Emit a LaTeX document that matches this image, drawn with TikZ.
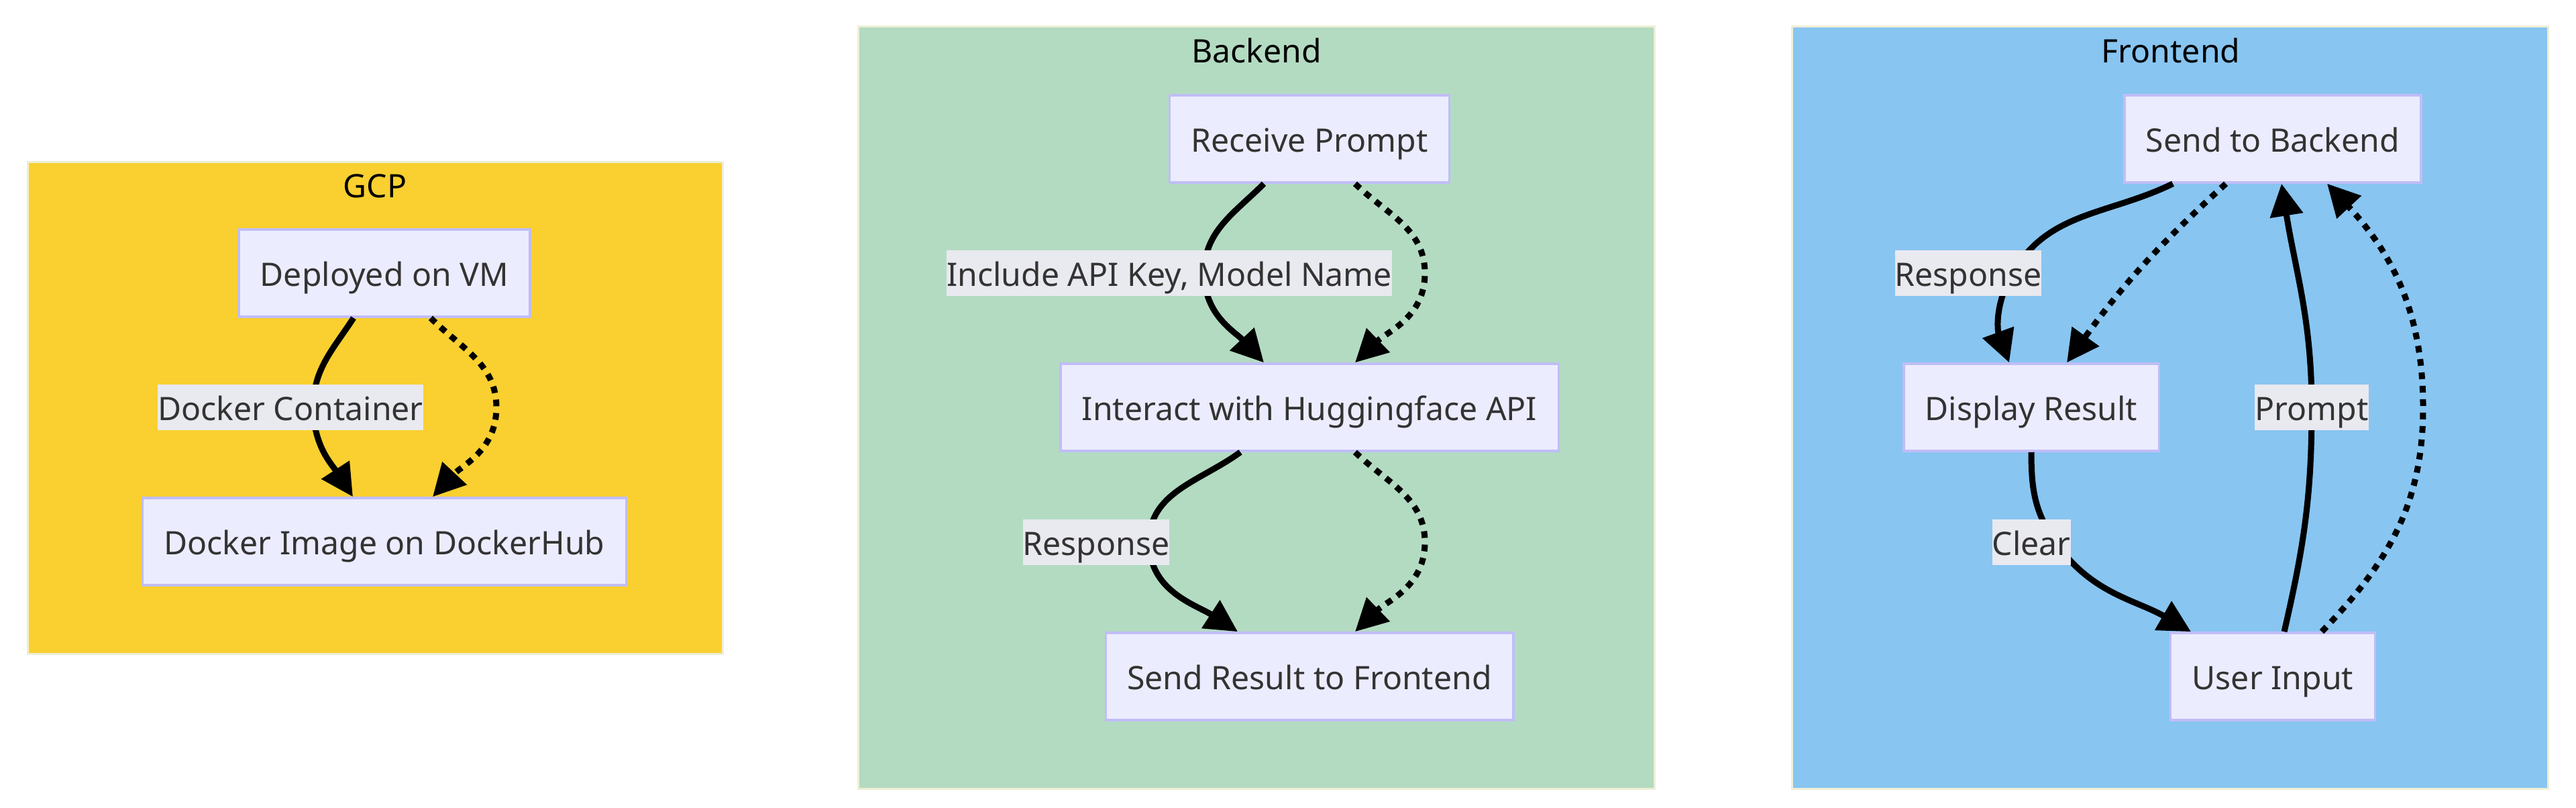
\documentclass[tikz,border=0pt]{standalone}
\usepackage{fontspec}
\setmainfont{Noto Sans}
\usetikzlibrary{arrows.meta}
\definecolor{gcpfill}{HTML}{F9D02F}
\definecolor{backfill}{HTML}{B3DBC2}
\definecolor{frontfill}{HTML}{88C5F1}
\definecolor{groupline}{HTML}{EEEED6}
\definecolor{boxfill}{HTML}{ECECFF}
\definecolor{boxline}{HTML}{C0BDF7}
\definecolor{lblfill}{HTML}{E9E9F0}
\definecolor{textgray}{HTML}{333333}
\tikzset{
	every node/.style={font=\fontsize{13.7}{16}\selectfont},
	group/.style={draw=groupline, line width=0.03cm},
	title/.style={text=black},
	box/.style={draw=boxline, fill=boxfill, line width=0.035cm, minimum height=1.3cm, inner xsep=0.32cm,
		text height=0.46cm, text depth=0.08cm, text=textgray},
	lbl/.style={fill=lblfill, inner xsep=0pt, inner ysep=0pt, minimum height=0.68cm,
		text height=0.46cm, text depth=0.08cm, text=textgray},
	link/.style={line width=0.09cm, -{Triangle[length=4.8mm,width=4.8mm]}},
	dotlink/.style={link, dash pattern=on 0.1cm off 0.1cm},
}
\begin{document}
\begin{tikzpicture}
	\useasboundingbox (0,0) rectangle (38.4,-12.04);
	% groups
	\draw[group, fill=gcpfill] (0.41,-2.41) rectangle (10.77,-9.74);
	\draw[group, fill=backfill] (12.79,-0.40) rectangle (24.66,-11.75);
	\draw[group, fill=frontfill] (26.71,-0.40) rectangle (37.98,-11.75);
	\node[title] (gcp) at (5.59,-2.77) {GCP};
	\node[title] (backend) at (18.73,-0.75) {Backend};
	\node[title] (frontend) at (32.36,-0.75) {Frontend};

	% GCP
	\node[box] (dep) at (5.73,-4.07) {Deployed on VM};
	\node[box] (img) at (5.73,-8.07) {Docker Image on DockerHub};
	\draw[link] ([xshift=-0.46cm]dep.south) to[out=-123,in=90] (4.67,-6.07)
		to[out=-90,in=123] ([xshift=-0.47cm]img.north);
	\draw[dotlink] ([xshift=0.69cm]dep.south) to[out=-45,in=90] (7.40,-6.07)
		to[out=-90,in=47] ([xshift=0.72cm]img.north);
	\node[lbl] (container) at (4.33,-6.07) {Docker Container};

	% Backend
	\node[box] (prompt) at (19.52,-2.07) {Receive Prompt};
	\node[box] (api) at (19.52,-6.07) {Interact with Huggingface API};
	\node[box] (result) at (19.52,-10.08) {Send Result to Frontend};
	\draw[link] ([xshift=-0.68cm]prompt.south) to[out=-135,in=90] (17.95,-4.07)
		to[out=-90,in=133] ([xshift=-0.68cm]api.north);
	\draw[dotlink] ([xshift=0.68cm]prompt.south) to[out=-44,in=90] (21.24,-4.07)
		to[out=-90,in=44] ([xshift=0.68cm]api.north);
	\draw[link] ([xshift=-1.03cm]api.south) to[out=-144,in=90] (17.13,-8.08)
		to[out=-90,in=147] ([xshift=-1.07cm]result.north);
	\draw[dotlink] ([xshift=0.68cm]api.south) to[out=-44,in=90] (21.24,-8.08)
		to[out=-90,in=44] ([xshift=0.68cm]result.north);
	\node[lbl] (keys) at (17.43,-4.07) {Include API Key, Model Name};
	\node[lbl] (resp) at (16.34,-8.08) {Response};

	% Frontend
	\node[box] (send) at (33.88,-2.07) {Send to Backend};
	\node[box] (show) at (30.28,-6.07) {Display Result};
	\node[box] (input) at (33.88,-10.08) {User Input};
	\draw[link] ([xshift=-1.49cm]send.south) to[out=-154,in=60] (30.00,-4.07)
		to[out=-120,in=110] ([xshift=-0.33cm]show.north);
	\draw[dotlink] ([xshift=-0.70cm]send.south) to[bend right=6] ([xshift=0.53cm]show.north);
	\draw[link] (show.south) to[out=-90,in=124] (30.62,-8.05)
		to[out=-56,in=150] ([xshift=-1.22cm]input.north);
	\draw[link] ([xshift=0.17cm]input.north) to[out=77,in=-90] (34.46,-6.07)
		to[out=90,in=-81] ([xshift=0.13cm]send.south);
	\draw[dotlink] ([xshift=0.73cm]input.north) to[out=46,in=-90] (36.12,-6.07)
		to[out=90,in=-47] ([xshift=0.81cm]send.south);
	\node[lbl] (fresp) at (29.34,-4.07) {Response};
	\node[lbl] (clear) at (30.28,-8.08) {Clear};
	\node[lbl] (ask) at (34.46,-6.07) {Prompt};
\end{tikzpicture}
\end{document}
